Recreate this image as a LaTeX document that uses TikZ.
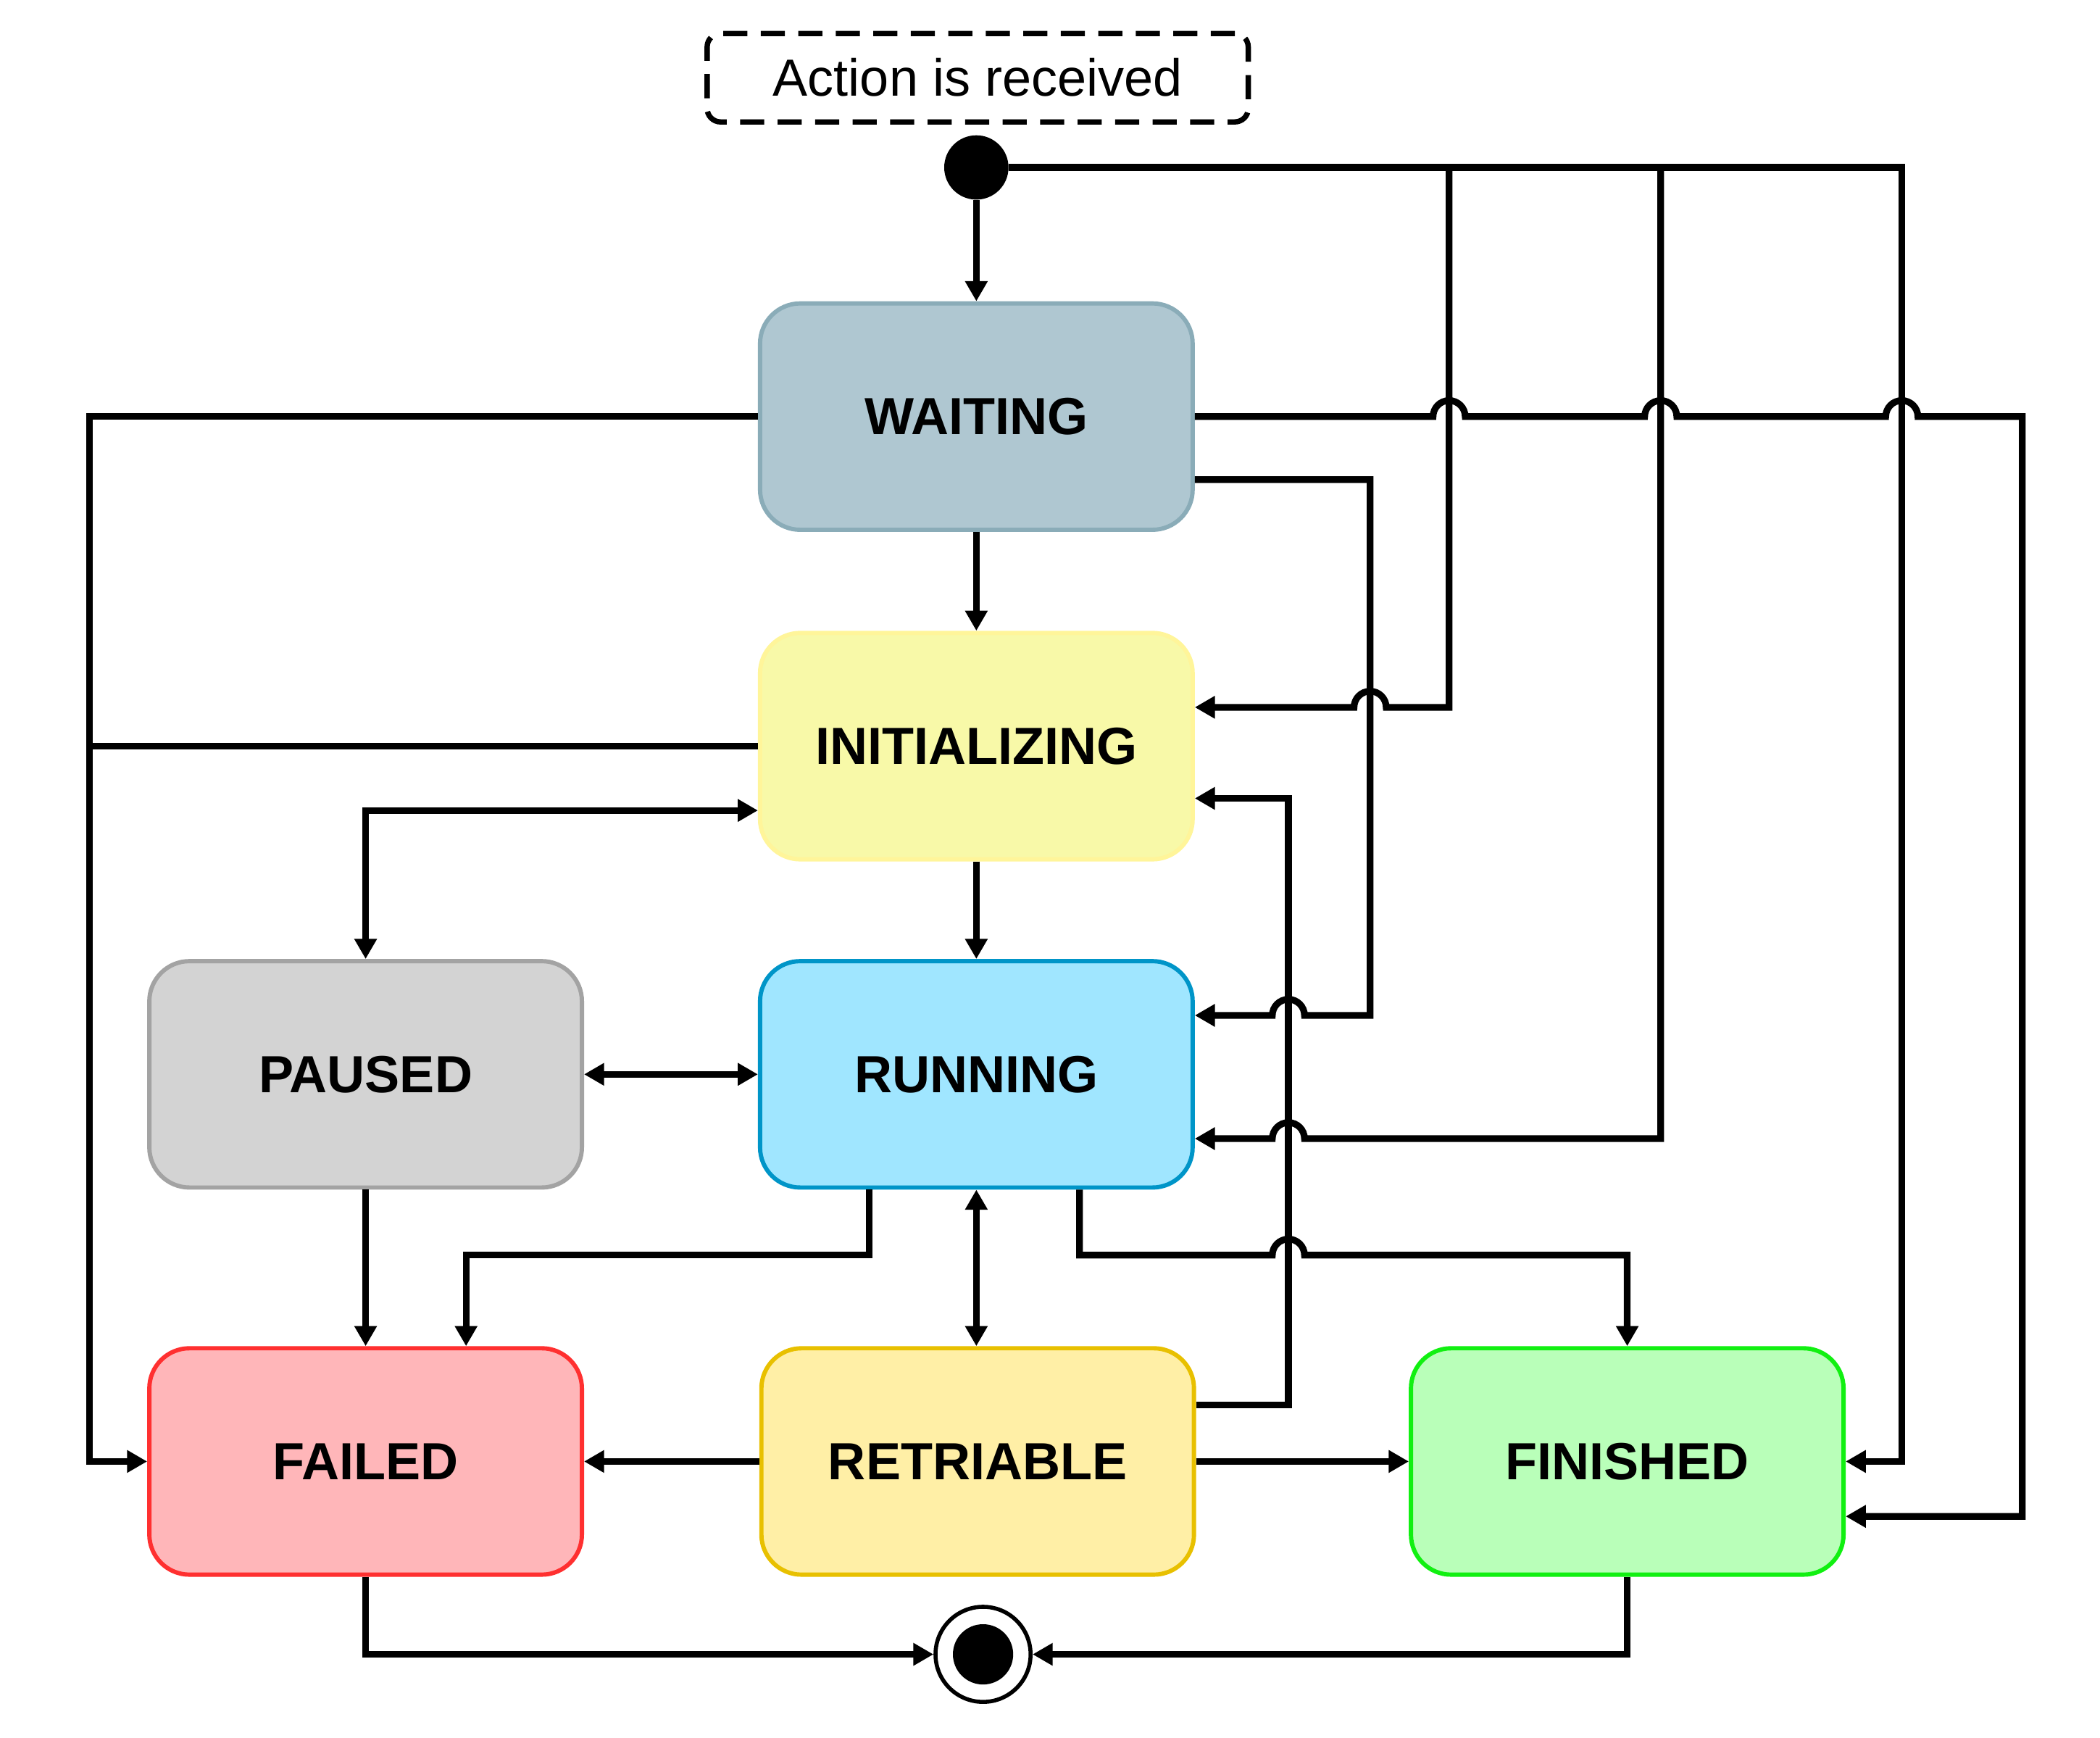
\documentclass[tikz,border=0pt]{standalone}
\usepackage{fontspec}
\setmainfont{Liberation Sans}
\usetikzlibrary{arrows.meta}
\definecolor{wfill}{HTML}{AFC7D1}
\definecolor{wdraw}{HTML}{8AACB8}
\definecolor{ifill}{HTML}{F8F9A8}
\definecolor{idraw}{HTML}{FFF59A}
\definecolor{pfill}{HTML}{D3D3D3}
\definecolor{pdraw}{HTML}{A3A3A3}
\definecolor{rfill}{HTML}{A0E6FF}
\definecolor{rdraw}{HTML}{0095C8}
\definecolor{ffill}{HTML}{FFB6B9}
\definecolor{fdraw}{HTML}{FF3030}
\definecolor{tfill}{HTML}{FFEFA6}
\definecolor{tdraw}{HTML}{E8C000}
\definecolor{nfill}{HTML}{B9FFB9}
\definecolor{ndraw}{HTML}{11F011}
\begin{document}
\begin{tikzpicture}[x=0.5pt,y=-0.5pt,
  state/.style={rectangle, rounded corners=15pt, minimum width=161.5pt, minimum height=84.5pt,
    line width=1.6pt, inner sep=0pt, font=\fontsize{19.5pt}{23pt}\selectfont\bfseries},
  conn/.style={line width=2.5pt, draw=black},
  arr/.style={conn, -{Triangle[length=7.5pt,width=8pt]}},
  darr/.style={conn, {Triangle[length=7.5pt,width=8pt]}-{Triangle[length=7.5pt,width=8pt]}},
]
\useasboundingbox (0,0) rectangle (1568,1297);

% nodes
\node[draw, dash pattern=on 9pt off 5pt, line width=2pt, rounded corners=5pt,
  minimum width=202pt, minimum height=33pt, inner sep=0pt,
  font=\fontsize{19.5pt}{23pt}\selectfont] (act) at (730,58) {Action is received};
\node[circle, fill=black, minimum size=24pt, inner sep=0pt] (start) at (729,125) {};
\node[state, fill=wfill, draw=wdraw] (W) at (729,311) {WAITING};
\node[state, fill=ifill, draw=idraw] (I) at (729,557) {INITIALIZING};
\node[state, fill=pfill, draw=pdraw] (P) at (273,802) {PAUSED};
\node[state, fill=rfill, draw=rdraw] (R) at (729,802) {RUNNING};
\node[state, fill=ffill, draw=fdraw] (FA) at (273,1091) {FAILED};
\node[state, fill=tfill, draw=tdraw] (RT) at (730,1091) {RETRIABLE};
\node[state, fill=nfill, draw=ndraw] (FIN) at (1215,1091) {FINISHED};
\node[circle, draw=black, fill=white, line width=1.5pt, minimum size=35.5pt, inner sep=0pt] (end) at (734,1235) {};
\fill[black] (end.center) circle[radius=11.25pt];

% connectors
\draw[arr] (start) -- (W);
\draw[arr] (start.east) -- (1420,125) -- (1420,1091) -- (FIN.east);
\draw[arr] (1082,125) -- (1082,528) -- (1035,528) arc[start angle=0,end angle=180,radius=6pt] -- ([yshift=14.5pt]I.east);
\draw[arr] (1240,125) -- (1240,850) -- (974,850) arc[start angle=0,end angle=180,radius=6pt] -- ([yshift=-24pt]R.east);
\draw[arr] (W.east) -- (1070,311) arc[start angle=180,end angle=0,radius=6pt]
  -- (1228,311) arc[start angle=180,end angle=0,radius=6pt]
  -- (1408,311) arc[start angle=180,end angle=0,radius=6pt]
  -- (1510,311) -- (1510,1132) -- ([yshift=-20.5pt]FIN.east);
\draw[arr] (W.west) -- (67,311) -- (67,1091) -- (FA.west);
\draw[conn] (I.west) -- (67,557);
\draw[arr] (W) -- (I);
\draw[arr] ([yshift=-23.5pt]W.east) -- (1023,358) -- (1023,758) -- (974,758) arc[start angle=0,end angle=180,radius=6pt] -- ([yshift=22pt]R.east);
\draw[arr] (I) -- (R);
\draw[darr] ([yshift=-24pt]I.west) -- (273,605) -- (P.north);
\draw[darr] (P) -- (R);
\draw[arr] (P) -- (FA);
\draw[arr] ([xshift=-40pt]R.south) -- (649,937) -- (348,937) -- ([xshift=37.5pt]FA.north);
\draw[darr] (R.south) -- (R.south |- RT.north);
\draw[arr] ([xshift=38.5pt]R.south) -- (806,937) -- (950,937) arc[start angle=180,end angle=0,radius=6pt] -- (1215,937) -- (FIN.north);
\draw[arr] ([yshift=21pt]RT.east) -- (962,1049) -- (962,596) -- ([yshift=-19.5pt]I.east);
\draw[arr] (RT) -- (FA);
\draw[arr] (RT) -- (FIN);
\draw[arr] (FA.south) |- (end);
\draw[arr] (FIN.south) |- (end);
\end{tikzpicture}
\end{document}
